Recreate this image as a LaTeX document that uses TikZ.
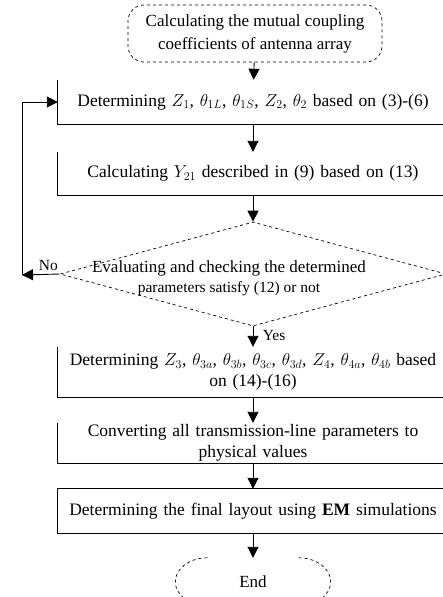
\documentclass[tikz,border=0pt]{standalone}
\usepackage{fontspec}
\setmainfont{Liberation Serif}
\usepackage{amsmath}
\usetikzlibrary{arrows.meta,positioning,shapes.geometric}

\begin{document}
\begin{tikzpicture}[x=1pt, y=-1pt,
    box/.style={inner sep=0pt, minimum width=390pt, text width=388pt,
                align=center, font=\fontsize{17.5}{21}\selectfont},
    edge/.style={line width=0.9pt},
    term/.style={draw, dashed, rounded corners=16pt, line width=0.7pt,
                 inner sep=0pt, align=center, font=\fontsize{17}{23}\selectfont},
    arr/.style={-{Triangle[length=11pt, width=11pt]}, line width=0.9pt}
]
\useasboundingbox (0,0) rectangle (443,597);

% terminals
\node[term, minimum width=254pt, minimum height=57pt] (start) at (255,33.5)
    {Calculating the mutual coupling\\coefficients of antenna array};
\node[inner sep=0pt, minimum width=155pt, minimum height=48pt,
      font=\fontsize{17}{21}\selectfont] (end) at (253,582) {End};

% process steps
\node[box, minimum height=44pt] (b1) at (253,102)
    {Determining $Z_1$, $\theta_{1L}$, $\theta_{1S}$, $Z_2$, $\theta_2$ based on (3)-(6)};
\node[box, minimum height=43pt] (b2) at (253,173.5)
    {Calculating $Y_{21}$ described in (9) based on (13)};
\node[draw, dashed, diamond, line width=0.7pt, inner sep=0pt,
      minimum width=386pt, minimum height=104pt] (chk) at (253,274) {};
\node[align=center, inner sep=0pt, font=\fontsize{17}{20}\selectfont]
    (chktext) at (229,278)
    {Evaluating and checking the determined\\{\fontsize{15.5}{18}\selectfont parameters satisfy (12) or not}};
\node[box, minimum height=50pt] (b3) at (253,372)
    {Determining $Z_3$, $\theta_{3a}$, $\theta_{3b}$, $\theta_{3c}$, $\theta_{3d}$, $Z_4$, $\theta_{4a}$, $\theta_{4b}$ based\\on (14)-(16)};
\node[box, minimum height=40pt] (b4) at (253,443)
    {Converting all transmission-line parameters to\\physical values};
\node[box, minimum height=44pt] (b5) at (253,511)
    {Determining the final layout using \textbf{EM} simulations};

% box outlines
\foreach \b in {b1,b2,b3,b4}
    \draw[edge] (\b.north west) -- (\b.south west) -- (\b.south east);
\draw[edge] (b5.north east) -- (b5.north west) -- (b5.south west) -- (b5.south east);
\draw[term, draw=black] ([xshift=32pt]end.north west)
    arc[start angle=90, end angle=270, x radius=32pt, y radius=24pt];
\draw[term, draw=black] ([xshift=-32pt]end.north east)
    arc[start angle=90, end angle=-90, x radius=32pt, y radius=24pt];

% flow
\coordinate (back) at (22,275);
\draw[arr] (start) -- (b1);
\draw[arr] (b1) -- (b2);
\draw[arr] (b2) -- (chk.north);
\draw[arr] (chk.south) -- (b3) node[pos=0.45, right=6pt, font=\fontsize{15.5}{18}\selectfont] {Yes};
\draw[arr] (b3) -- (b4);
\draw[arr] (b4) -- (b5);
\draw[arr] (b5) -- (end);
\draw[arr] (chk.west) -- (back) node[pos=0.3, above, font=\fontsize{15.5}{18}\selectfont] {No};
\draw[arr] (back) |- (b1.west);

\end{tikzpicture}
\end{document}
